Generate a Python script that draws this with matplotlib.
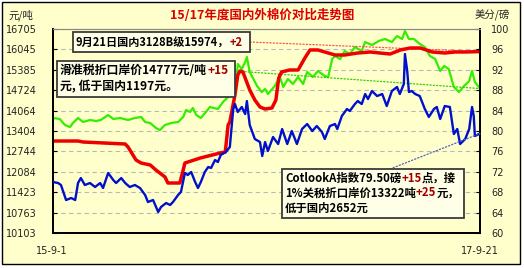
import matplotlib
matplotlib.use('Agg')
import matplotlib.pyplot as plt
from matplotlib.patches import Rectangle

plt.rcParams['font.family'] = ['Noto Sans CJK SC', 'DejaVu Sans']

W, H = 524, 268
TOTAL_DAYS = 751  # 2015-09-01 .. 2017-09-21

left_ticks = [10103, 10763, 11423, 12084, 12744, 13404, 14064, 14724, 15385, 16045, 16705]
right_ticks = [60, 64, 68, 72, 76, 80, 84, 88, 92, 96, 100]
x_labels = ['15-9-1', '17-9-21']

# 国内3128B (元/吨, left axis)
red_day = [0, 44, 53, 127, 132, 146, 155, 171, 181, 197, 202, 223, 229, 232, 259, 294, 303, 308, 311, 320,
           325, 329, 334, 346, 355, 364, 373, 385, 392, 397, 402, 416, 431, 443, 452, 466, 478, 496, 513,
           536, 558, 575, 593, 611, 628, 646, 667, 689, 707, 725, 751]
red_val = [13080, 13080, 13048, 12983, 12886, 12465, 12368, 12304, 12142, 11915, 11721, 11721, 12142, 12368,
           12530, 12692, 12724, 13598, 13695, 14569, 15216, 15346, 15313, 14731, 14407, 14181, 14116, 14148,
           14407, 15119, 15313, 15378, 15378, 15767, 16026, 16026, 15961, 15864, 15864, 15928, 15961, 15928,
           15896, 16026, 16090, 16090, 15961, 15928, 15961, 15961, 15974]

# 滑准税折口岸价 (元/吨, left axis)
green_day = [0, 12, 21, 30, 35, 44, 53, 65, 76, 84, 97, 106, 118, 132, 144, 155, 162, 171, 181, 188, 197,
             208, 220, 229, 234, 241, 246, 252, 260, 269, 276, 290, 299, 308, 317, 324, 325, 332, 338, 341,
             346, 359, 367, 373, 378, 390, 399, 405, 413, 422, 431, 440, 447, 457, 466, 478, 484, 491, 496,
             505, 513, 522, 531, 543, 549, 561, 573, 584, 596, 605, 614, 619, 626, 635, 645, 654, 663, 672,
             681, 688, 696, 705, 714, 723, 732, 737, 742, 751]
green_val = [13825, 13792, 13598, 13533, 13663, 13825, 13695, 13760, 13727, 13760, 13922, 13792, 13825, 13760,
             13825, 13857, 13695, 13663, 13501, 13436, 13598, 13663, 13695, 13857, 14084, 14019, 14148, 13922,
             13825, 14019, 14181, 14116, 14343, 14504, 14828, 15313, 15572, 15410, 15637, 15799, 15313, 14860,
             14666, 14763, 14601, 14860, 15152, 14828, 15087, 14925, 15152, 14925, 15313, 15152, 15346, 15184,
             15152, 15734, 15831, 15734, 15993, 15896, 16122, 15993, 16284, 16187, 16317, 16381, 16284, 16478,
             16381, 16640, 16381, 16381, 16220, 16122, 15831, 15734, 15346, 15508, 15410, 14828, 14666, 14860,
             15022, 15346, 14990, 14777]

# Cotlook A (美分/磅, right axis)
blue_day = [0, 9, 14, 23, 32, 39, 44, 49, 56, 65, 74, 83, 88, 97, 106, 111, 120, 127, 135, 144, 153, 162,
            167, 176, 185, 190, 199, 206, 211, 220, 225, 232, 237, 243, 250, 255, 260, 267, 273, 278, 285,
            290, 295, 304, 311, 317, 320, 325, 332, 338, 341, 346, 355, 364, 368, 373, 378, 387, 396, 403,
            412, 420, 429, 438, 447, 456, 464, 473, 478, 487, 496, 500, 508, 517, 522, 531, 536, 543, 549,
            554, 561, 570, 579, 587, 596, 605, 610, 617, 619, 623, 626, 631, 637, 645, 654, 661, 670, 675,
            681, 689, 698, 705, 711, 716, 725, 732, 737, 740, 742, 751]
blue_val = [70.0, 69.8, 69.41, 66.47, 66.86, 66.47, 69.8, 70.78, 69.41, 69.8, 69.02, 69.8, 68.82, 71.76,
            70.39, 69.8, 70.78, 69.8, 69.02, 69.41, 68.82, 67.45, 66.08, 66.47, 64.12, 65.1, 65.88, 65.49,
            66.08, 67.45, 68.04, 71.76, 71.37, 71.96, 70.0, 68.82, 70.0, 71.96, 72.94, 72.75, 74.31, 73.92,
            75.29, 75.88, 76.86, 84.31, 85.29, 83.73, 84.71, 83.33, 85.88, 81.18, 78.43, 77.84, 75.1, 77.84,
            76.08, 78.82, 77.45, 80.39, 77.45, 80.0, 77.45, 80.39, 81.37, 80.0, 80.98, 79.8, 78.43, 80.98,
            81.37, 80.39, 82.94, 84.31, 83.92, 85.29, 85.88, 85.29, 87.25, 86.27, 87.84, 86.86, 87.25, 84.9,
            87.84, 88.63, 87.25, 89.22, 95.1, 91.76, 87.65, 87.84, 87.25, 86.86, 84.31, 82.75, 84.31, 84.71,
            82.35, 84.9, 84.71, 79.41, 80.39, 77.45, 78.43, 80.39, 84.71, 82.94, 79.02, 79.5]

title = '15/17年度国内外棉价对比走势图'
left_unit = '元/吨'
right_unit = '美分/磅'

BG = '#FFFFCC'
BOX_BG = '#FFFFE8'
RED = '#EE0000'
GREEN = '#33EE00'
BLUE = '#0010CC'
DARKRED = '#A00000'


def fx(px):
    return px / W


def fy(py):
    return 1 - py / H


fig = plt.figure(figsize=(W / 100, H / 100), dpi=100, facecolor='white')
fig.patches.append(Rectangle((fx(2), fy(264)), fx(518), 262 / H, transform=fig.transFigure,
                             facecolor=BG, edgecolor='black', lw=1.0, zorder=-10))

ax = fig.add_axes([fx(53), fy(233), fx(427), 204 / H])
ax.set_facecolor(BG)
ax.set_xlim(0, TOTAL_DAYS)
ax.set_ylim(left_ticks[0], left_ticks[-1])
ax.set_yticks(left_ticks)
ax.set_yticklabels([str(v) for v in left_ticks])
ax.set_xticks([])
for v in left_ticks[1:-1]:
    ax.axhline(v, color='#B8B8B8', lw=0.8, ls=(0, (4, 3)), zorder=1)
ax.tick_params(axis='y', direction='in', length=3, pad=12, labelsize=7, colors='black',
               labelcolor='#222222')
for t in ax.get_yticklabels():
    t.set_family('DejaVu Sans')

ax2 = ax.twinx()
ax2.set_ylim(right_ticks[0], right_ticks[-1])
ax2.set_yticks(right_ticks)
ax2.set_yticklabels([str(v) for v in right_ticks])
ax2.tick_params(axis='y', direction='in', length=3, pad=8, labelsize=7, colors='black',
                labelcolor='#222222')
for t in ax2.get_yticklabels():
    t.set_family('DejaVu Sans')

for a in (ax, ax2):
    a.spines['left'].set_linewidth(1.3)
    a.spines['bottom'].set_linewidth(1.3)
    a.spines['right'].set_linewidth(1.3)
    a.spines['top'].set_color('#888888')
    a.spines['top'].set_linewidth(0.8)

ax.plot(green_day, green_val, color=GREEN, lw=1.6, zorder=3, solid_joinstyle='round')
ax.plot(red_day, red_val, color=RED, lw=2.5, zorder=4, solid_joinstyle='round')
ax2.plot(blue_day, blue_val, color=BLUE, lw=1.7, zorder=3, solid_joinstyle='round')

# texts
fig.text(fx(262), fy(15), title, color='#DD0000', fontsize=9, fontweight='bold', ha='center', va='center')
fig.text(fx(8), fy(15), left_unit, color='#222222', fontsize=7.5, ha='left', va='center')
fig.text(fx(510), fy(15), right_unit, color='#222222', fontsize=7.5, ha='right', va='center')
fig.text(fx(52), fy(251), x_labels[0], color='#222222', fontsize=7, ha='center', va='center',
         family='DejaVu Sans')
fig.text(fx(480), fy(251), x_labels[1], color='#222222', fontsize=7, ha='center', va='center',
         family='DejaVu Sans')

# connector lines
ax.annotate('', xy=(red_day[-1], red_val[-1]), xycoords='data', xytext=(fx(250), fy(42)),
            textcoords='figure fraction',
            arrowprops=dict(arrowstyle='-', linestyle=':', color='#FF5050', lw=0.9,
                            shrinkA=0, shrinkB=0))
ax.annotate('', xy=(green_day[-1], green_val[-1]), xycoords='data', xytext=(fx(235), fy(71)),
            textcoords='figure fraction',
            arrowprops=dict(arrowstyle='-', linestyle=':', color='#33CC00', lw=0.9,
                            shrinkA=0, shrinkB=0))
ax2.annotate('', xy=(blue_day[-1], blue_val[-1]), xycoords='data', xytext=(fx(390), fy(169)),
             textcoords='figure fraction',
             arrowprops=dict(arrowstyle='-', linestyle=':', color='#5060C0', lw=0.9,
                             shrinkA=0, shrinkB=0))


def box(x0, y0, x1, y1):
    fig.patches.append(Rectangle((fx(x0), fy(y1)), (x1 - x0) / W, (y1 - y0) / H,
                                 transform=fig.transFigure, facecolor=BOX_BG,
                                 edgecolor='#3A3A3A', lw=1.3, zorder=5))


fig.canvas.draw()
renderer = fig.canvas.get_renderer()


def rich(xp, yp, parts, size=8.2):
    x = xp
    for s, c in parts:
        t = fig.text(fx(x), fy(yp), s, color=c, fontsize=size, fontweight='bold',
                     ha='left', va='center', zorder=6)
        x += t.get_window_extent(renderer).width


box(73, 32, 250, 52)
rich(76, 42, [('9月21日国内3128B级15974，', 'black'), ('+2', DARKRED)], size=8.0)

box(57, 61, 235, 97)
rich(60, 71, [('滑准税折口岸价14777元/吨', 'black'), ('+15', DARKRED)], size=8.6)
rich(60, 87, [('元, 低于国内1197元。', 'black')], size=8.6)

box(282, 169, 464, 218)
rich(285, 178, [('CotlookA指数79.50磅', 'black'), ('+15', DARKRED), ('点，接', 'black')])
rich(285, 193, [('1%关税折口岸价13322吨', 'black'), ('+25', DARKRED), ('元，', 'black')])
rich(285, 208, [('低于国内2652元', 'black')])

fig.savefig('out.png', dpi=100, facecolor=fig.get_facecolor())
